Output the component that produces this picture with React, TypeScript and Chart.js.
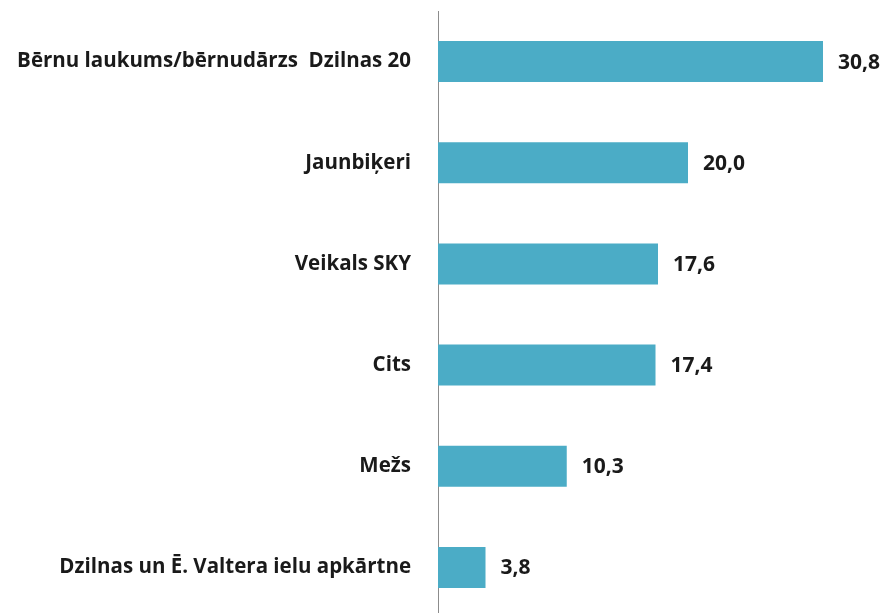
import React, { useEffect, useRef } from "react";
import { Chart, registerables } from "chart.js";

Chart.register(...registerables);

const categories = [
  "Bērnu laukums/bērnudārzs  Dzilnas 20",
  "Jaunbiķeri",
  "Veikals SKY",
  "Cits",
  "Mežs",
  "Dzilnas un Ē. Valtera ielu apkārtne",
];
const values = [30.8, 20.0, 17.6, 17.4, 10.3, 3.8];
const xMin = 0;
const xMax = 35;

const FONT = "'Open Sans', 'DejaVu Sans', sans-serif";
const TEXT = "#1a1a1a";

const valueLabels = {
  id: "valueLabels",
  afterDatasetsDraw(chart: any) {
    const ctx = chart.ctx;
    const meta = chart.getDatasetMeta(0);
    ctx.save();
    ctx.font = `bold 21px ${FONT}`;
    ctx.fillStyle = TEXT;
    ctx.textAlign = "left";
    ctx.textBaseline = "middle";
    meta.data.forEach((el: any, i: number) => {
      const v = values[i];
      ctx.fillText(v.toFixed(1).replace(".", ","), el.x + 15, el.y + 1);
    });
    ctx.restore();
  },
};

export default function App() {
  const ref = useRef<HTMLCanvasElement>(null);
  useEffect(() => {
    document.body.style.margin = "0";
    document.body.style.overflow = "hidden";
    const chart = new Chart(ref.current!, {
      type: "bar",
      data: {
        labels: categories,
        datasets: [
          {
            data: values,
            backgroundColor: "#4BACC6",
            borderWidth: 0,
            barPercentage: 0.405,
            categoryPercentage: 1,
          },
        ],
      },
      options: {
        indexAxis: "y",
        animation: false,
        responsive: false,
        maintainAspectRatio: false,
        layout: { padding: { top: 11, right: 12.5, bottom: 2, left: 0 } },
        plugins: {
          legend: { display: false },
          tooltip: { enabled: false },
        },
        scales: {
          x: {
            display: false,
            min: xMin,
            max: xMax,
          },
          y: {
            afterFit: (scale: any) => {
              scale.width = 438;
              scale.paddingTop = 0;
              scale.paddingBottom = 0;
            },
            grid: { display: false, drawTicks: false },
            border: { display: true, color: "#8c8c8c", width: 1 },
            ticks: {
              padding: 27,
              color: TEXT,
              font: { family: FONT, size: 20.5, weight: "bold" },
            },
          },
        },
      },
      plugins: [valueLabels],
    });
    return () => chart.destroy();
  }, []);
  return (
    <div style={{ position: "fixed", left: 0, top: 0, width: 888, height: 620 }}>
      <canvas ref={ref} width={888} height={620} style={{ width: 888, height: 620, display: "block" }} />
    </div>
  );
}
